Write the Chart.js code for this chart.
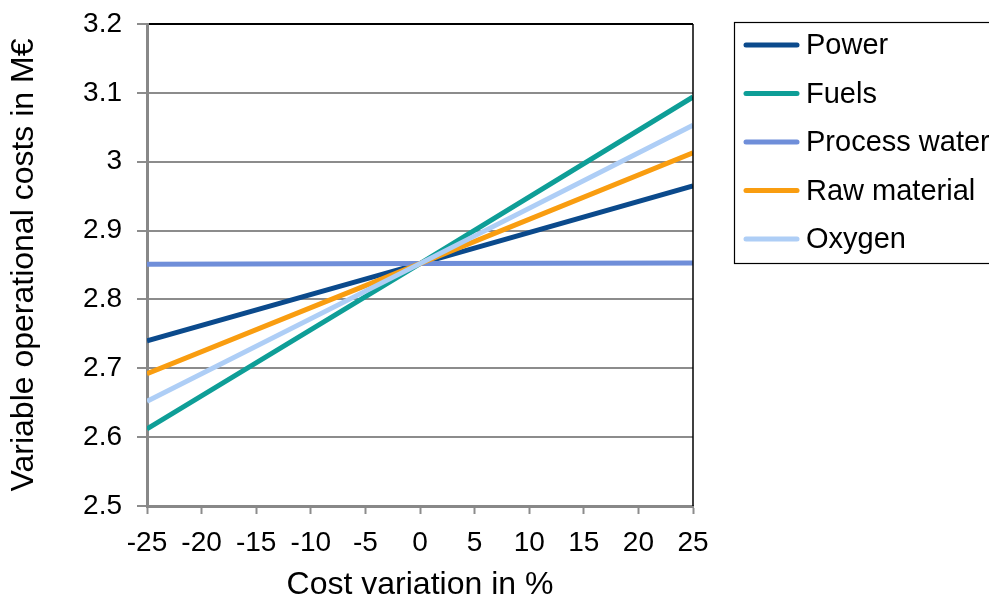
<!DOCTYPE html>
<html>
<head>
<meta charset="utf-8">
<script src="https://cdn.jsdelivr.net/npm/chart.js@4"></script>
<style>
html,body{margin:0;padding:0;background:#fff;}
#wrap{width:989px;height:601px;}
</style>
</head>
<body>
<div id="wrap"><canvas id="c" width="989" height="601"></canvas></div>
<script>
const xValues = [-25, 0, 25];
const xTickLabels = ['-25','-20','-15','-10','-5','0','5','10','15','20','25'];
const yTickLabels = ['2.5','2.6','2.7','2.8','2.9','3','3.1','3.2'];
const seriesNames = ['Power','Fuels','Process water','Raw material','Oxygen'];
const power = [2.740, 2.852, 2.965];
const fuels = [2.612, 2.852, 3.094];
const processWater = [2.851, 2.852, 2.853];
const rawMaterial = [2.692, 2.852, 3.013];
const oxygen = [2.652, 2.852, 3.053];
const colors = ['#0B4A8C', '#0E9E97', '#6F8ED9', '#F99D10', '#AECEF6'];

const seriesValues = [power, fuels, processWater, rawMaterial, oxygen];
const FONT = '"Liberation Sans", Arial, sans-serif';

const datasets = seriesValues.map((vals, i) => ({
  label: seriesNames[i],
  data: vals.map((v, j) => ({x: xValues[j], y: v})),
  borderColor: colors[i],
  backgroundColor: colors[i],
  borderWidth: 5,
  pointRadius: 0,
  tension: 0,
  order: seriesNames.length - i
}));

const framePlugin = {
  id: 'frame',
  afterDatasetsDraw(chart) {
    const {ctx, chartArea: a} = chart;
    ctx.save();
    ctx.strokeStyle = '#000';
    ctx.lineWidth = 1.5;
    ctx.beginPath();
    ctx.moveTo(a.right, a.top);
    ctx.lineTo(a.right, a.bottom);
    ctx.stroke();
    ctx.restore();
  },
  afterDraw(chart) {
    const {ctx} = chart;
    ctx.save();
    ctx.fillStyle = '#fff';
    ctx.strokeStyle = '#000';
    ctx.lineWidth = 1.2;
    ctx.fillRect(734.5, 22.5, 270, 241);
    ctx.strokeRect(734.5, 22.5, 270, 241);
    ctx.font = '29px ' + FONT;
    ctx.textBaseline = 'middle';
    ctx.textAlign = 'left';
    chart.data.datasets.forEach((ds, i) => {
      const y = 45 + i * 48.5;
      ctx.strokeStyle = ds.borderColor;
      ctx.lineWidth = 5;
      ctx.lineCap = 'round';
      ctx.beginPath();
      ctx.moveTo(746, y);
      ctx.lineTo(797, y);
      ctx.stroke();
      ctx.fillStyle = '#000';
      ctx.fillText(ds.label, 806, y + 1);
    });
    ctx.restore();
  }
};

new Chart(document.getElementById('c'), {
  type: 'line',
  data: {datasets},
  options: {
    responsive: false,
    animation: false,
    events: [],
    layout: {padding: {left: 0, right: 296, top: 24, bottom: 0}},
    plugins: {legend: {display: false}, tooltip: {enabled: false}},
    scales: {
      x: {
        type: 'linear',
        min: -25, max: 25,
        ticks: {
          stepSize: 5,
          color: '#000',
          font: {size: 28, family: FONT},
          padding: 12,
          maxRotation: 0,
          autoSkip: false,
          callback: (v) => xTickLabels[Math.round((v + 25) / 5)]
        },
        grid: {display: true, drawOnChartArea: false, drawTicks: true, tickLength: 8, tickColor: '#8c8c8c', tickWidth: 2},
        border: {display: true, color: '#888', width: 3},
        title: {display: true, text: 'Cost variation in %', color: '#000', font: {size: 32, family: FONT, lineHeight: 1}, padding: {top: 0, bottom: 0}},
        afterFit: (s) => { s.height = 95; s.paddingLeft = 0; s.paddingRight = 0; }
      },
      y: {
        type: 'linear',
        min: 2.5, max: 3.2,
        ticks: {
          stepSize: 0.1,
          color: '#000',
          font: {size: 28, family: FONT},
          padding: 15,
          autoSkip: false,
          callback: (v) => yTickLabels[Math.round((v - 2.5) * 10)]
        },
        grid: {
          color: (c) => (c.tick && Math.abs(c.tick.value - 3.2) < 1e-6) ? '#000' : '#8c8c8c',
          lineWidth: 2,
          tickLength: 10,
          tickColor: '#8c8c8c',
          tickWidth: 2
        },
        border: {display: true, color: '#888', width: 3},
        title: {display: true, text: 'Variable operational costs in M€', color: '#000', font: {size: 32, family: FONT, lineHeight: 1}, padding: {top: 8, bottom: 0}},
        afterFit: (s) => { s.width = 147; s.paddingTop = 0; s.paddingBottom = 0; }
      }
    }
  },
  plugins: [framePlugin]
});
</script>
</body>
</html>
